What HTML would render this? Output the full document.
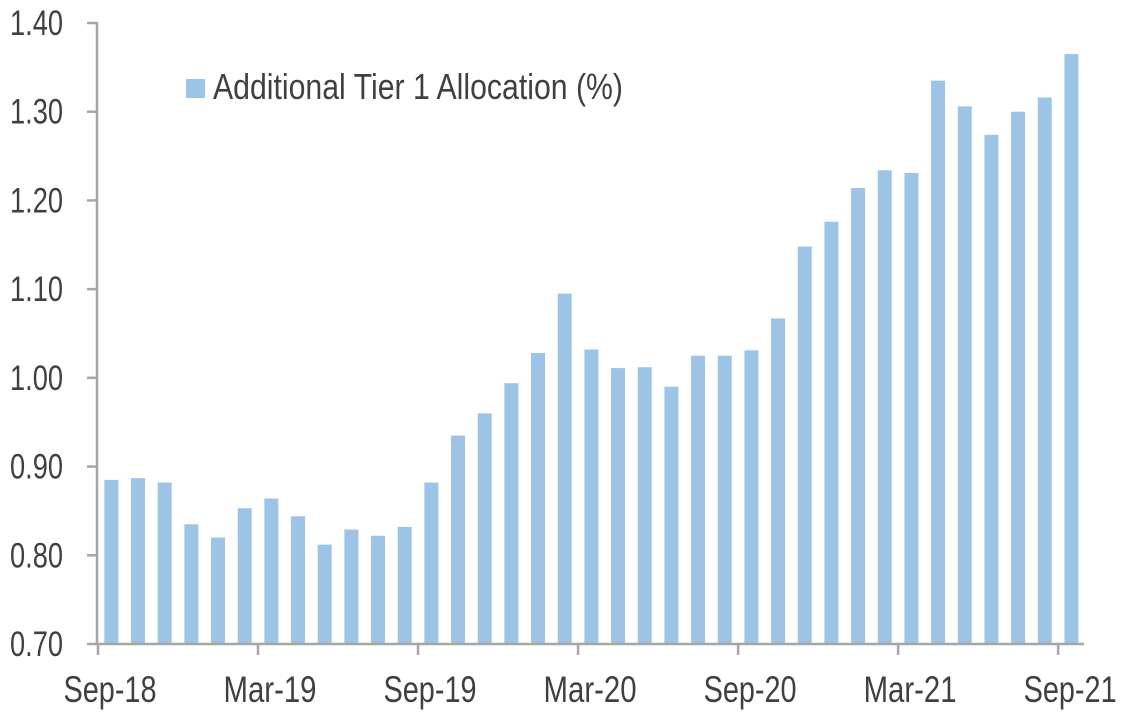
<!DOCTYPE html>
<html><head><meta charset="utf-8"><style>
html,body{margin:0;padding:0;background:#fff;}
svg{display:block;}
text{font-family:"Liberation Sans",sans-serif;fill:#404040;}
</style></head><body>
<svg width="1125" height="717" viewBox="0 0 1125 717" xmlns="http://www.w3.org/2000/svg">
<g id="bars" fill="#9DC3E6"></g>
<g stroke="#a6a6a6" stroke-width="2.5" fill="none">
<line x1="97" y1="22" x2="97" y2="645"/>
<line x1="96" y1="644" x2="1084" y2="644"/>
<g id="yt"></g><g id="xt"></g>
</g>
<g id="yl"></g>
<g id="xl"></g>
<rect x="186" y="79" width="19" height="19" fill="#9DC3E6"/>
<text x="213" y="99" font-size="36" textLength="410" lengthAdjust="spacingAndGlyphs">Additional Tier 1 Allocation (%)</text>
<script>
var v=[0.885,0.887,0.882,0.835,0.820,0.853,0.864,0.844,0.812,0.829,0.822,0.832,0.882,0.935,0.960,0.994,1.028,1.095,1.032,1.011,1.012,0.990,1.025,1.025,1.031,1.067,1.148,1.176,1.214,1.234,1.231,1.335,1.306,1.274,1.300,1.316,1.365];
var ns="http://www.w3.org/2000/svg";
function el(p,t,a,txt){var e=document.createElementNS(ns,t);for(var k in a)e.setAttribute(k,a[k]);if(txt)e.textContent=txt;document.getElementById(p).appendChild(e);}
function Y(x){return 644-(x-0.7)/0.1*88.714;}
var cw=26.67;
v.forEach(function(d,i){var c=98+cw*(i+0.5);el("bars","rect",{x:c-7,y:Y(d),width:14,height:644-Y(d)});});
for(var i=0;i<=7;i++){var val=0.7+i*0.1,y=Y(val);el("yt","line",{x1:87,y1:y,x2:97,y2:y});el("yl","text",{x:10,y:y+12,"font-size":35,textLength:53,lengthAdjust:"spacingAndGlyphs"},val.toFixed(2));}
var lab=["Sep-18","Mar-19","Sep-19","Mar-20","Sep-20","Mar-21","Sep-21"];
for(var i=0;i<=37;i+=6){var x=98+cw*i;el("xt","line",{x1:x,y1:644,x2:x,y2:655});if(i/6<7){var w=93;el("xl","text",{x:x+12-w/2,y:702,"font-size":37,textLength:w,lengthAdjust:"spacingAndGlyphs"},lab[i/6]);}}
</script>
</svg>
</body></html>
